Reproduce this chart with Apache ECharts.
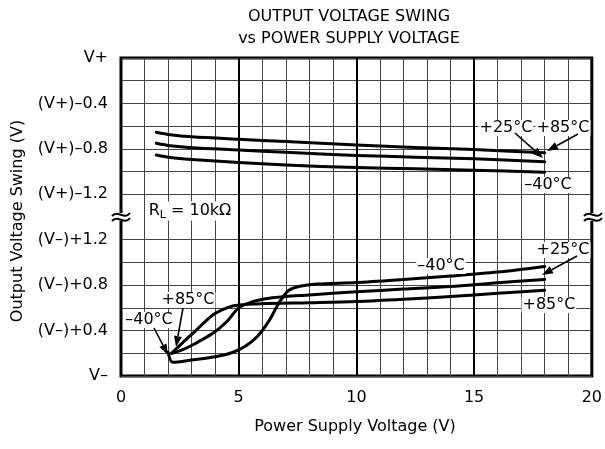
<!DOCTYPE html>
<html>
<head>
<meta charset="utf-8">
<script src="https://cdn.jsdelivr.net/npm/echarts@6/dist/echarts.min.js"></script>
<style>html,body{margin:0;padding:0;background:#fff}#c{width:605px;height:449px}</style>
</head>
<body>
<div id="c"></div>
<script>
// ---- data ----
const xTickValues = [0, 5, 10, 15, 20];
const yTickLabels = ['V–', '(V–)+0.4', '(V–)+0.8', '(V–)+1.2', '(V+)–1.2', '(V+)–0.8', '(V+)–0.4', 'V+'];
// upper curves: [supply V, volts below V+]
const hi85 = [[1.5,0.654],[2.1,0.676],[3,0.694],[5,0.716],[7,0.736],[10,0.766],[12.5,0.787],[15,0.806],[18,0.834]];
const hi25 = [[1.5,0.751],[2.1,0.773],[3,0.79],[5,0.81],[7,0.83],[10,0.858],[12.5,0.873],[15,0.888],[18,0.913]];
const hi40 = [[1.5,0.854],[2.1,0.876],[3,0.893],[5,0.92],[7,0.942],[10,0.965],[12.5,0.976],[15,0.988],[18,1.006]];
// lower curves: [supply V, volts above V-]
const lo40 = [[2.0,0.21],[2.2,0.12],[3,0.14],[4,0.17],[4.7,0.205],[5.3,0.265],[5.8,0.35],[6.3,0.49],[6.7,0.64],[7.1,0.75],[7.6,0.79],[8.3,0.81],[10,0.823],[12,0.85],[14,0.88],[16,0.915],[18,0.965]];
const lo25 = [[2.15,0.2],[2.6,0.23],[3.1,0.28],[3.9,0.376],[4.5,0.48],[5.0,0.6],[5.6,0.655],[6.3,0.685],[7,0.70],[8,0.713],[10,0.742],[12,0.765],[14,0.787],[16,0.822],[18,0.85]];
const lo85 = [[2.15,0.2],[2.6,0.29],[3.1,0.385],[3.9,0.537],[4.5,0.6],[5.0,0.625],[6,0.637],[8,0.645],[10,0.655],[12,0.675],[14,0.70],[16,0.728],[18,0.755]];

// broken axis: each row = 0.2 V; rows 0-6 lower section, rows 8-14 upper section
const ROW = 0.2, TOP = 14;
const toLower = a => a.map(p => [p[0], p[1] / ROW]);
const toUpper = a => a.map(p => [p[0], TOP - p[1] / ROW]);

const FONT = '"DejaVu Sans", "Liberation Sans", Arial, sans-serif';
const chart = echarts.init(document.getElementById('c'), null, {renderer: 'canvas'});

function lineSeries(name, data) {
  return {
    name, type: 'line', data, showSymbol: false, smooth: 0.3,
    lineStyle: {color: '#000', width: 3, cap: 'round', join: 'round'}, z: 5, silent: true
  };
}

function label(text, x, y) {
  return {type: 'text', z: 20, style: {text, x, y, font: '16px ' + FONT, fill: '#000',
    align: 'center', verticalAlign: 'middle', backgroundColor: '#fff', padding: [0, 1]}};
}
function arrow(x1, y1, x2, y2) {
  const ang = Math.atan2(y2 - y1, x2 - x1), L = 11, W = 4;
  const bx = x2 - L * Math.cos(ang), by = y2 - L * Math.sin(ang);
  const nx = -Math.sin(ang) * W, ny = Math.cos(ang) * W;
  return [
    {type: 'line', z: 21, shape: {x1, y1, x2: bx, y2: by}, style: {stroke: '#000', lineWidth: 1.6}},
    {type: 'polygon', z: 21, shape: {points: [[x2, y2], [bx + nx, by + ny], [bx - nx, by - ny]]}, style: {fill: '#000'}}
  ];
}
function breakMark(cx, cy) {
  return [
    {type: 'rect', z: 22, shape: {x: cx - 3, y: cy - 4, width: 6, height: 8}, style: {fill: '#fff'}},
    {type: 'bezierCurve', z: 23, shape: {x1: cx - 9, y1: cy - 1, cpx1: cx - 3, cpy1: cy - 8, cpx2: cx + 3, cpy2: cy + 4, x2: cx + 9, y2: cy - 4}, style: {stroke: '#000', lineWidth: 2, fill: null}},
    {type: 'bezierCurve', z: 23, shape: {x1: cx - 9, y1: cy + 4, cpx1: cx - 3, cpy1: cy - 3, cpx2: cx + 3, cpy2: cy + 9, x2: cx + 9, y2: cy + 1}, style: {stroke: '#000', lineWidth: 2, fill: null}}
  ];
}

const graphics = [].concat(
  [
    {type: 'text', z: 20, style: {text: 'OUTPUT VOLTAGE SWING', x: 349, y: 17, font: '16px ' + FONT, fill: '#000', align: 'center', verticalAlign: 'middle'}},
    {type: 'text', z: 20, style: {text: 'vs POWER SUPPLY VOLTAGE', x: 349, y: 39, font: '16px ' + FONT, fill: '#000', align: 'center', verticalAlign: 'middle'}},
    {type: 'text', z: 20, style: {text: 'Power Supply Voltage (V)', x: 355, y: 427, font: '16px ' + FONT, fill: '#000', align: 'center', verticalAlign: 'middle'}},
    {type: 'text', z: 20, x: 18, y: 221, rotation: Math.PI / 2, style: {text: 'Output Voltage Swing (V)', x: 0, y: 0, font: '16px ' + FONT, fill: '#000', align: 'center', verticalAlign: 'middle'}},
    {type: 'text', z: 20, style: {x: 190, y: 211, text: '{r|R}{s|L}{r| = 10kΩ}', align: 'center', verticalAlign: 'middle', backgroundColor: '#fff', padding: [0, 2],
      rich: {r: {font: '16px ' + FONT, fill: '#000'}, s: {font: '11px ' + FONT, fill: '#000', verticalAlign: 'bottom', padding: [8, 0, 0, 0]}}}},
    label('+25°C', 506, 128), label('+85°C', 563, 128), label('–40°C', 548, 185),
    label('+25°C', 563, 250), label('–40°C', 441, 266), label('+85°C', 549, 305),
    label('+85°C', 188, 300), label('–40°C', 149, 320)
  ],
  arrow(515, 133, 543, 158), arrow(578, 134, 547, 151),
  arrow(577, 256, 542, 275),
  arrow(183, 308, 176, 347), arrow(154, 328, 168, 355),
  breakMark(121, 217), breakMark(593, 217)
);

chart.setOption({
  animation: false,
  backgroundColor: '#fff',
  grid: {left: 121, right: 12, top: 58, bottom: 73, show: true, borderColor: '#000', borderWidth: 3, backgroundColor: 'transparent'},
  xAxis: [
    {type: 'value', min: 0, max: 20, interval: 1,
      axisLine: {show: false}, axisTick: {show: false},
      axisLabel: {customValues: xTickValues, fontSize: 16, fontFamily: FONT, color: '#000', margin: 14},
      splitLine: {show: true, lineStyle: {color: '#444', width: 1}}},
    {type: 'value', min: 0, max: 20, interval: 5, position: 'top',
      axisLine: {show: false}, axisTick: {show: false}, axisLabel: {show: false},
      splitLine: {show: true, lineStyle: {color: '#000', width: 2}}}
  ],
  yAxis: {type: 'value', min: 0, max: TOP, interval: 1,
    axisLine: {show: false},
    axisTick: {show: false, customValues: [0, 1, 2, 3, 4, 5, 6, 8, 9, 10, 11, 12, 13, 14]},
    axisLabel: {customValues: [0, 2, 4, 6, 8, 10, 12, 14], formatter: v => yTickLabels[Math.round(v / 2)],
      fontSize: 16, fontFamily: FONT, color: '#000', margin: 13},
    splitLine: {show: true, lineStyle: {color: '#444', width: 1}}},
  series: [
    lineSeries('+85°C (V+)', toUpper(hi85)),
    lineSeries('+25°C (V+)', toUpper(hi25)),
    lineSeries('–40°C (V+)', toUpper(hi40)),
    lineSeries('–40°C (V–)', toLower(lo40)),
    lineSeries('+25°C (V–)', toLower(lo25)),
    lineSeries('+85°C (V–)', toLower(lo85))
  ],
  graphic: graphics
});
</script>
</body>
</html>
